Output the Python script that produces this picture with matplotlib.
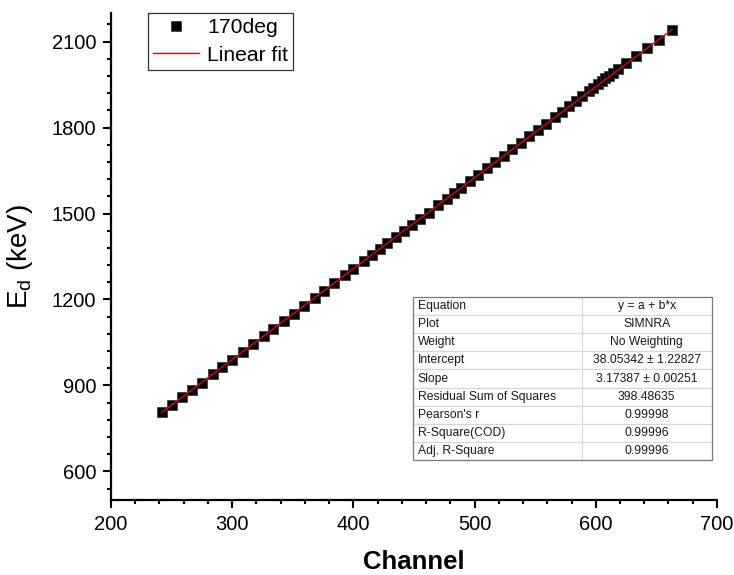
import matplotlib
matplotlib.use("Agg")
import matplotlib.pyplot as plt
from matplotlib.patches import Rectangle
from matplotlib.ticker import MultipleLocator
import numpy as np

plt.rcParams['font.family'] = ['Liberation Sans', 'DejaVu Sans']
plt.rcParams['mathtext.fontset'] = 'custom'
plt.rcParams['mathtext.rm'] = 'Liberation Sans'
plt.rcParams['mathtext.it'] = 'Liberation Sans:italic'

# Calibration points: channel vs. deuteron energy (keV)
channel = [242, 250, 259, 267, 275, 284, 292, 300, 309, 317, 326, 334, 343, 351,
           359, 368, 376, 384, 393, 400, 409, 415, 422, 428, 435, 442, 448, 455,
           462, 470, 477, 483, 489, 496, 503, 510, 517, 524, 531, 538, 545, 552,
           559, 566, 572, 578, 584, 589, 594, 598, 602, 605, 608, 611, 614, 618,
           625, 633, 642, 652, 663]
energy = [807.9, 833.2, 858.6, 883.1, 909.4, 938.2, 963.0, 989.1, 1017.2, 1042.9,
          1071.8, 1096.4, 1124.9, 1150.6, 1176.3, 1204.1, 1229.7, 1255.9, 1284.0,
          1306.1, 1334.6, 1354.0, 1376.2, 1395.8, 1417.5, 1440.1, 1459.2, 1481.0,
          1503.6, 1529.1, 1551.4, 1570.6, 1589.8, 1612.4, 1634.9, 1657.3, 1679.8,
          1702.3, 1724.6, 1747.0, 1769.2, 1791.5, 1813.6, 1835.8, 1855.4, 1874.6,
          1893.8, 1910.1, 1926.4, 1939.5, 1952.3, 1962.0, 1971.6, 1981.0, 1990.3,
          2003.0, 2024.6, 2049.5, 2076.9, 2106.8, 2139.6]

# Linear fit results
intercept = 38.05342
intercept_err = 1.22827
slope = 3.17387
slope_err = 0.00251
rss = 398.48635
pearson_r = 0.99998
r_square = 0.99996
adj_r_square = 0.99996

table_labels = ["Equation", "Plot", "Weight", "Intercept", "Slope",
                "Residual Sum of Squares", "Pearson's r", "R-Square(COD)",
                "Adj. R-Square"]
table_values = ["y = a + b*x", "SIMNRA", "No Weighting",
                f"{intercept:.5f} \u00b1 {intercept_err:.5f}",
                f"{slope:.5f} \u00b1 {slope_err:.5f}",
                f"{rss:.5f}", f"{pearson_r:.5f}", f"{r_square:.5f}",
                f"{adj_r_square:.5f}"]

fig = plt.figure(figsize=(7.34, 5.75), dpi=100)
ax = fig.add_axes([0.1512, 0.1304, 0.8256, 0.847])

ax.plot(channel, energy, linestyle='none', marker='s', markersize=7.5,
        markerfacecolor='black', markeredgecolor='#303030', markeredgewidth=0.5,
        label='170deg', zorder=3)

x_fit = np.array([min(channel), max(channel)])
ax.plot(x_fit, intercept + slope * x_fit, color='#e8000b', linewidth=1.0,
        label='Linear fit', zorder=4)

ax.set_xlim(200, 700)
ax.set_ylim(500, 2200)
ax.xaxis.set_major_locator(MultipleLocator(100))
ax.xaxis.set_minor_locator(MultipleLocator(20))
ax.set_yticks([600, 900, 1200, 1500, 1800, 2100])
ax.yaxis.set_minor_locator(MultipleLocator(60))

for side in ('top', 'right'):
    ax.spines[side].set_visible(False)
for side in ('left', 'bottom'):
    ax.spines[side].set_linewidth(1.6)

ax.tick_params(which='major', direction='out', length=5.5, width=1.5,
               labelsize=14.5, pad=5)
ax.tick_params(which='minor', direction='out', length=3.2, width=1.5)

ax.set_xlabel('Channel', fontsize=18.5, fontweight='bold', labelpad=12)
ax.set_ylabel(r'E$_\mathrm{d}$ (keV)', fontsize=20, labelpad=12)

leg = ax.legend(loc='upper left', bbox_to_anchor=(0.061, 1.0), borderaxespad=0,
                fontsize=15.2, frameon=True, fancybox=False, handlelength=2.15,
                handletextpad=0.4, borderpad=0.25, labelspacing=0.4)
leg.get_frame().set_edgecolor('black')
leg.get_frame().set_linewidth(0.9)

# Fit summary table
tbl_x0, tbl_y0, tbl_w, tbl_h = 0.498, 0.0821, 0.4934, 0.3347
cells = [[lab, val] for lab, val in zip(table_labels, table_values)]
tbl = ax.table(cellText=cells, bbox=[tbl_x0, tbl_y0, tbl_w, tbl_h],
               colWidths=[0.565, 0.435], cellLoc='center', zorder=5)
tbl.auto_set_font_size(False)
tbl.set_fontsize(8.7)
for (r, c), cell in tbl.get_celld().items():
    cell.set_edgecolor('#d6d6d6')
    cell.set_linewidth(0.8)
    cell.set_facecolor('white')
    cell.get_text().set_color('#1a1a1a')
    if c == 0:
        cell.PAD = 0.03
        cell._loc = 'left'
        cell.get_text().set_horizontalalignment('left')
    else:
        cell._loc = 'center'
        cell.get_text().set_horizontalalignment('center')
ax.add_patch(Rectangle((tbl_x0, tbl_y0), tbl_w, tbl_h, transform=ax.transAxes,
                       fill=False, edgecolor='#7a7a7a', linewidth=0.9, zorder=6,
                       clip_on=False))

fig.savefig('out.png', dpi=100)
